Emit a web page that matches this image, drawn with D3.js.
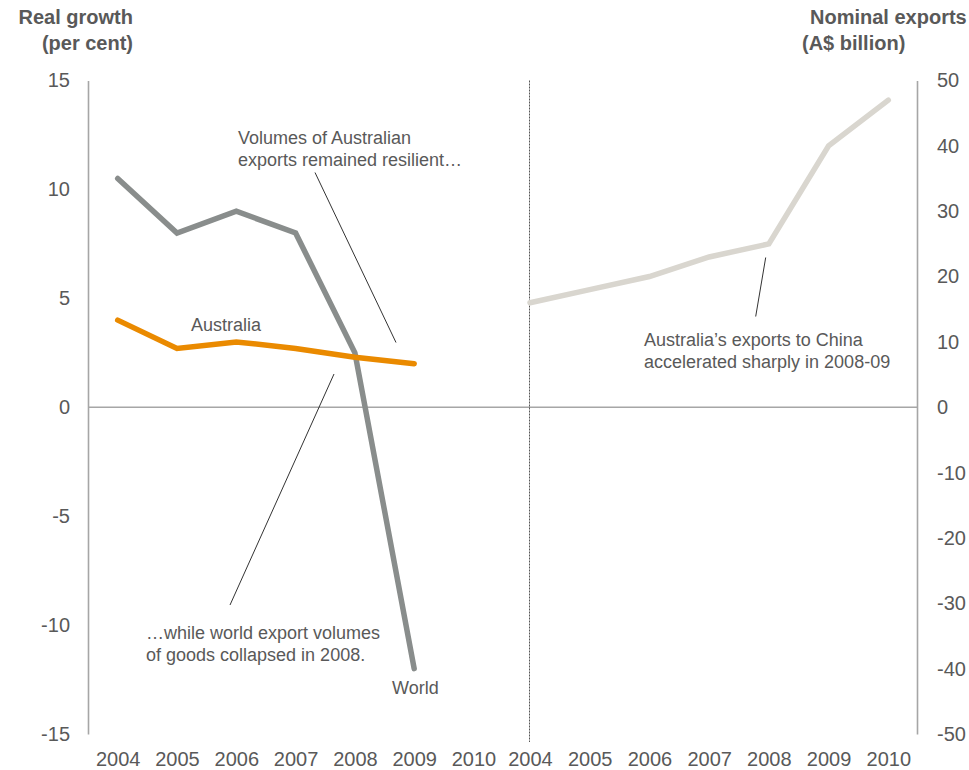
<!DOCTYPE html>
<html>
<head>
<meta charset="utf-8">
<script src="https://cdn.jsdelivr.net/npm/d3@7"></script>
<style>
  html, body { margin: 0; padding: 0; background: #fff; }
  svg { display: block; font-family: "Liberation Sans", Arial, sans-serif; }
</style>
</head>
<body>
<svg id="chart" width="969" height="770"></svg>
<script>
// ---- Data ----
const years = ["2004", "2005", "2006", "2007", "2008", "2009", "2010"];
const worldGrowth = [10.5, 8.0, 9.0, 8.0, 2.5, -12.0];          // 2004-2009
const australiaGrowth = [4.0, 2.7, 3.0, 2.7, 2.3, 2.0];         // 2004-2009
const chinaExports = [16, 18, 20, 23, 25, 40, 47];              // 2004-2010, A$ billion
const leftTicks = [15, 10, 5, 0, -5, -10, -15];
const rightTicks = [50, 40, 30, 20, 10, 0, -10, -20, -30, -40, -50];

(function () {
// ---- Layout ----
const svg = d3.select("#chart");
const plotTop = 80.5, plotBottom = 734;
const leftAxisX = 88, rightAxisX = 917, dividerX = 529.5;
const textCol = "#595959";
const axisCol = "#a6a6a6";
const fontFam = "'Liberation Sans', Arial, sans-serif";
const fmt = d => String(d);   // plain hyphen-minus like the reference

const yL = d3.scaleLinear().domain([-15, 15]).range([plotBottom, plotTop]);
const yR = d3.scaleLinear().domain([-50, 50]).range([plotBottom, plotTop]);
const xL = d3.scalePoint().domain(years).range([117.7, 473.5]);
const xR = d3.scalePoint().domain(years).range([530, 888.3]);

// zero line
svg.append("line")
  .attr("x1", leftAxisX).attr("x2", rightAxisX)
  .attr("y1", yL(0)).attr("y2", yL(0))
  .attr("stroke", axisCol).attr("stroke-width", 1.6);

// divider
svg.append("line")
  .attr("x1", dividerX).attr("x2", dividerX)
  .attr("y1", plotTop).attr("y2", 742)
  .attr("stroke", "#555").attr("stroke-width", 1)
  .attr("stroke-dasharray", "2,1");

// Left axis
const gL = svg.append("g").attr("transform", `translate(${leftAxisX},0)`)
  .call(d3.axisLeft(yL).tickValues(leftTicks).tickSize(0).tickSizeOuter(0).tickPadding(18).tickFormat(fmt));
gL.select(".domain").attr("stroke", axisCol).attr("stroke-width", 1.6);
gL.selectAll("text").attr("fill", textCol).style("font-size", "20px").style("font-family", fontFam);

// Right axis
const gR = svg.append("g").attr("transform", `translate(${rightAxisX},0)`)
  .call(d3.axisRight(yR).tickValues(rightTicks).tickSize(0).tickSizeOuter(0).tickPadding(20).tickFormat(fmt));
gR.select(".domain").attr("stroke", axisCol).attr("stroke-width", 1.6);
gR.selectAll("text").attr("fill", textCol).style("font-size", "20px").style("font-family", fontFam);

// X axes
[xL, xR].forEach(xs => {
  const g = svg.append("g").attr("transform", `translate(0,${plotBottom})`)
    .call(d3.axisBottom(xs).tickSize(0).tickPadding(18));
  g.select(".domain").remove();
  g.selectAll("text").attr("fill", textCol).style("font-size", "20px").style("font-family", fontFam);
});

// Lines
const lineL = d3.line().x((d, i) => xL(years[i])).y(d => yL(d));
const lineR = d3.line().x((d, i) => xR(years[i])).y(d => yR(d));

svg.append("path").datum(chinaExports).attr("d", lineR)
  .attr("fill", "none").attr("stroke", "#d9d6cf").attr("stroke-width", 5.5)
  .attr("stroke-linecap", "round").attr("stroke-linejoin", "miter");

svg.append("path").datum(worldGrowth).attr("d", lineL)
  .attr("fill", "none").attr("stroke", "#898d8c").attr("stroke-width", 5.5)
  .attr("stroke-linecap", "round").attr("stroke-linejoin", "miter");

svg.append("path").datum(australiaGrowth).attr("d", lineL)
  .attr("fill", "none").attr("stroke", "#ea8a00").attr("stroke-width", 5.5)
  .attr("stroke-linecap", "round").attr("stroke-linejoin", "miter");

// Titles / annotations
function multiText(x, y, lines, anchor, size, weight, lh) {
  const t = svg.append("text").attr("x", x).attr("y", y)
    .attr("text-anchor", anchor).attr("fill", textCol)
    .style("font-size", size + "px").style("font-weight", weight).style("font-family", fontFam);
  lines.forEach((l, i) => t.append("tspan").attr("x", x).attr("dy", i === 0 ? 0 : lh).text(l));
  return t;
}
multiText(133, 24, ["Real growth", "(per cent)"], "end", 20, "bold", 26);
multiText(810, 24, ["Nominal exports"], "start", 20, "bold", 26);
multiText(802, 50, ["(A$ billion)"], "start", 20, "bold", 26);

multiText(238, 144, ["Volumes of Australian", "exports remained resilient…"], "start", 18, "normal", 22);
multiText(146, 639, ["…while world export volumes", "of goods collapsed in 2008."], "start", 18, "normal", 22);
multiText(644, 346, ["Australia’s exports to China", "accelerated sharply in 2008-09"], "start", 18, "normal", 22);
multiText(191, 331, ["Australia"], "start", 18, "normal", 22);
multiText(392, 694, ["World"], "start", 18, "normal", 22);

// Leader lines
const leaders = [
  [315, 172.5, 396, 342.5],
  [334, 374, 230, 605],
  [765.7, 257.5, 755.7, 316.5]
];
leaders.forEach(l => svg.append("line")
  .attr("x1", l[0]).attr("y1", l[1]).attr("x2", l[2]).attr("y2", l[3])
  .attr("stroke", "#333").attr("stroke-width", 1));
})();
</script>
</body>
</html>
